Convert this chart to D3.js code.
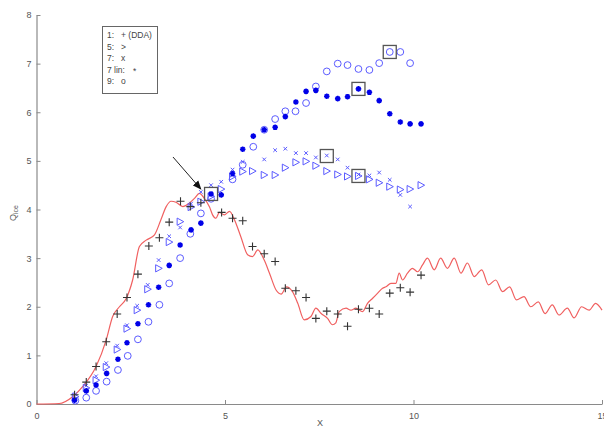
<!DOCTYPE html>
<html><head><meta charset="utf-8">
<script src="https://cdn.jsdelivr.net/npm/d3@7"></script>
<style>
html,body{margin:0;padding:0;background:#fff;}
svg{display:block;font-family:"Liberation Sans",Arial,sans-serif;}
</style></head>
<body><svg id="c" width="604" height="429"></svg>
<script>
// ---- data ----
const xTicks = [0, 5, 10, 15];
const yTicks = [0, 1, 2, 3, 4, 5, 6, 7, 8];
const legendLabels = ["1:", "5:", "7:", "7 lin:", "9:"];
const legendSymbols = ["+ (DDA)", ">", "x", "*", "o"];

// red curve
const redX = [0,0.6,0.96,1.23,1.58,1.85,2.02,2.2,2.38,2.55,2.73,2.91,3.13,3.3,3.44,3.57,3.7,3.88,4.05,4.19,4.32,4.45,4.59,4.67,4.76,4.85,4.98,5.12,5.25,5.42,5.6,5.73,5.87,6.04,6.18,6.35,6.49,6.63,6.79,6.93,7.1,7.28,7.41,7.55,7.72,7.85,7.94,8.03,8.21,8.34,8.47,8.65,8.78,8.91,9.05,9.18,9.27,9.4,9.53,9.62,9.71,9.84,9.97,10.11,10.24,10.37,10.55,10.72,10.9,11.08,11.26,11.43,11.61,11.81,11.99,12.18,12.36,12.55,12.73,12.93,13.11,13.31,13.49,13.68,13.86,14.08,14.26,14.46,14.66,14.83,15];
const redY = [0,0.01,0.15,0.36,0.77,1.32,1.8,2,2.17,2.55,3.24,3.37,3.48,3.79,4.06,4.17,4.15,4.06,4.13,4.23,4.33,4.23,4.05,3.89,3.82,3.94,3.89,3.96,3.79,3.44,3.07,3.03,3.17,2.96,2.69,2.35,2.26,2.41,2.31,2.07,1.73,1.8,1.97,1.86,1.76,1.63,1.67,1.9,1.97,1.93,1.97,1.9,2.07,2.17,2.28,2.38,2.41,2.48,2.48,2.69,2.55,2.69,2.79,2.72,2.86,3,2.76,3,2.79,3,2.69,2.9,2.62,2.76,2.45,2.55,2.31,2.41,2.14,2.21,2,2.1,1.86,2.04,1.83,1.97,1.77,2,1.93,2.07,1.93];

// "+" (DDA)
const ddaX = [1.01,1.32,1.58,1.85,2.14,2.4,2.69,2.98,3.26,3.52,3.82,4.08,4.36,4.91,5.2,5.47,5.73,6.04,6.33,6.6,6.88,7.15,7.41,7.7,7.99,8.25,8.54,8.83,9.09,9.37,9.65,9.91,10.2];
const ddaY = [0.19,0.45,0.77,1.28,1.85,2.19,2.67,3.25,3.42,3.74,4.17,4.06,4.14,3.94,3.82,3.77,3.24,3.09,2.93,2.38,2.33,2.19,1.76,1.91,1.85,1.6,1.95,1.97,1.85,2.28,2.39,2.3,2.65];

// ">" (5)
const triX = [1.03,1.32,1.58,1.85,2.14,2.4,2.67,2.95,3.24,3.52,3.81,4.1,4.36,4.63,4.9,5.2,5.47,5.73,6.04,6.33,6.6,6.88,7.15,7.41,7.7,7.99,8.25,8.54,8.83,9.09,9.37,9.65,9.91,10.2];
const triY = [0.15,0.33,0.49,0.76,1.12,1.55,1.93,2.36,2.79,3.33,3.75,4.05,4.16,4.27,4.42,4.68,4.78,4.79,4.71,4.71,4.86,4.97,4.99,4.9,4.79,4.72,4.68,4.69,4.62,4.55,4.47,4.41,4.42,4.5];

// "x" (7)
const xsX = [1.03,1.32,1.58,1.85,2.14,2.4,2.67,2.95,3.24,3.52,3.81,4.1,4.36,4.63,4.9,5.2,5.47,6.04,6.33,6.6,6.88,7.15,7.41,7.7,7.99,8.25,8.54,8.83,9.09,9.37,9.65,9.91];
const xsY = [0.2,0.38,0.57,0.84,1.2,1.62,2.02,2.45,2.96,3.45,3.63,4.12,4.36,4.5,4.57,4.82,4.98,5.03,5.22,5.25,5.16,5.16,5.07,5.11,5.03,4.86,4.72,4.7,4.76,4.61,4.3,4.06];

// "*" (7 lin)
const starX = [1.01,1.32,1.58,1.86,2.16,2.4,2.69,2.97,3.24,3.52,3.81,4.1,4.36,4.63,4.9,5.2,5.47,5.75,6.04,6.33,6.6,6.88,7.15,7.41,7.7,7.99,8.25,8.54,8.83,9.09,9.37,9.65,9.91,10.2];
const starY = [0.08,0.27,0.39,0.63,0.92,1.26,1.65,2.04,2.4,2.85,3.27,3.58,3.72,4.32,4.3,4.74,5.24,5.51,5.64,5.69,5.91,6.21,6.43,6.45,6.33,6.28,6.32,6.48,6.41,6.24,5.97,5.8,5.76,5.76];

// "o" (9)
const circX = [1.03,1.32,1.58,1.86,2.16,2.42,2.69,2.97,3.26,3.52,3.81,4.08,4.36,4.63,5.2,5.47,5.75,6.04,6.33,6.6,6.87,7.15,7.41,7.7,7.99,8.25,8.54,8.83,9.09,9.37,9.65,9.91];
const circY = [0.07,0.13,0.27,0.46,0.7,0.99,1.33,1.69,2.04,2.48,3,3.5,3.92,4.22,4.62,4.92,5.29,5.64,5.86,6.02,6.02,6.19,6.53,6.84,7,6.97,6.89,6.87,7.01,7.24,7.24,7.01];

// highlighted points (boxes)
const boxX = [4.63, 9.37, 8.54, 7.7, 8.54];
const boxY = [4.32, 7.24, 6.48, 5.1, 4.69];

// arrow (data coords): start -> end
const arrowX = [3.62, 4.36];
const arrowY = [5.08, 4.42];

// ---- drawing ----
const svg = d3.select("#c");
const x = d3.scaleLinear().domain([0, 15]).range([36.5, 602]);
const y = d3.scaleLinear().domain([0, 8]).range([404, 15]);

const axisColor = "#8a8a8a", textColor = "#555";

// axes
const gx = svg.append("g").attr("transform", `translate(0,${y(0)})`)
  .call(d3.axisBottom(x).tickValues(xTicks).tickSizeInner(-4).tickSizeOuter(0).tickPadding(7));
const gy = svg.append("g").attr("transform", `translate(${x(0)},0)`)
  .call(d3.axisLeft(y).tickValues(yTicks).tickSizeInner(-4).tickSizeOuter(0).tickPadding(5));
[gx, gy].forEach(g => {
  g.select(".domain").attr("stroke", axisColor).attr("stroke-width", 1.2);
  g.selectAll(".tick line").attr("stroke", axisColor);
  g.selectAll(".tick text").attr("fill", textColor).attr("font-size", 9)
    .attr("font-family", '"Liberation Sans",Arial,sans-serif');
});
gx.selectAll(".tick text").attr("dy", "0.85em");

// axis labels
svg.append("text").attr("x", 320).attr("y", 426).attr("text-anchor", "middle")
  .attr("font-size", 9).attr("fill", textColor).text("X");
const yl = svg.append("text").attr("transform", "translate(16,213) rotate(-90)")
  .attr("text-anchor", "middle").attr("font-size", 9).attr("fill", textColor);
yl.append("tspan").text("Q");
yl.append("tspan").attr("font-size", 7).attr("dy", 2).text("ice");

// red curve
const redPts = redX.map((v, i) => [v, redY[i]]);
svg.append("path").datum(redPts)
  .attr("fill", "none").attr("stroke", "#f06060").attr("stroke-width", 1.2)
  .attr("d", d3.line().x(d => x(d[0])).y(d => y(d[1])).curve(d3.curveMonotoneX));

// marker helpers
function pts(xs, ys) { return xs.map((v, i) => [v, ys[i]]); }
const lightBlue = "#5b5bff", darkBlue = "#0000e8";

// triangles ">"
svg.append("g").selectAll("path").data(pts(triX, triY)).join("path")
  .attr("transform", d => `translate(${x(d[0])},${y(d[1])})`)
  .attr("d", "M-3,-3.6L3.6,0L-3,3.6Z")
  .attr("fill", "none").attr("stroke", lightBlue).attr("stroke-width", 1);

// x markers
svg.append("g").selectAll("path").data(pts(xsX, xsY)).join("path")
  .attr("transform", d => `translate(${x(d[0])},${y(d[1])})`)
  .attr("d", "M-1.8,-1.8L1.8,1.8M-1.8,1.8L1.8,-1.8")
  .attr("fill", "none").attr("stroke", lightBlue).attr("stroke-width", 1);

// circles
svg.append("g").selectAll("circle").data(pts(circX, circY)).join("circle")
  .attr("cx", d => x(d[0])).attr("cy", d => y(d[1])).attr("r", 3.4)
  .attr("fill", "none").attr("stroke", lightBlue).attr("stroke-width", 1);

// stars "*"
svg.append("g").selectAll("path").data(pts(starX, starY)).join("path")
  .attr("transform", d => `translate(${x(d[0])},${y(d[1])})`)
  .attr("d", "M-2.8,0H2.8M0,-2.8V2.8M-2,-2L2,2M-2,2L2,-2")
  .attr("fill", "none").attr("stroke", darkBlue).attr("stroke-width", 1.6);

// DDA "+"
svg.append("g").selectAll("path").data(pts(ddaX, ddaY)).join("path")
  .attr("transform", d => `translate(${x(d[0])},${y(d[1])})`)
  .attr("d", "M-4,0H4M0,-4V4")
  .attr("fill", "none").attr("stroke", "#333").attr("stroke-width", 1.1);

// highlight boxes
svg.append("g").selectAll("rect").data(pts(boxX, boxY)).join("rect")
  .attr("x", d => x(d[0]) - 6.5).attr("y", d => y(d[1]) - 6.5)
  .attr("width", 13).attr("height", 13)
  .attr("fill", "none").attr("stroke", "#555").attr("stroke-width", 1.3);

// arrow
svg.append("defs").append("marker").attr("id", "ah")
  .attr("viewBox", "0 0 10 10").attr("refX", 9).attr("refY", 5)
  .attr("markerWidth", 9).attr("markerHeight", 9).attr("orient", "auto")
  .attr("markerUnits", "userSpaceOnUse")
  .append("path").attr("d", "M0,1L10,5L0,9Z").attr("fill", "#111");
svg.append("line")
  .attr("x1", x(arrowX[0])).attr("y1", y(arrowY[0]))
  .attr("x2", x(arrowX[1])).attr("y2", y(arrowY[1]))
  .attr("stroke", "#222").attr("stroke-width", 1).attr("marker-end", "url(#ah)");

// legend
const lg = svg.append("g");
lg.append("rect").attr("x", 102.5).attr("y", 26.5).attr("width", 55).attr("height", 67)
  .attr("fill", "#fff").attr("stroke", "#666").attr("stroke-width", 1);
const rowY = [38, 49.5, 61, 72.5, 84];
legendLabels.forEach((lab, i) => {
  lg.append("text").attr("x", 107).attr("y", rowY[i]).attr("font-size", 8.5)
    .attr("fill", "#444").text(lab);
  lg.append("text").attr("x", i === 3 ? 133 : 121).attr("y", rowY[i] + (i === 3 ? 1 : 0))
    .attr("font-size", 8.5).attr("fill", "#444").text(legendSymbols[i]);
});
</script></body></html>
